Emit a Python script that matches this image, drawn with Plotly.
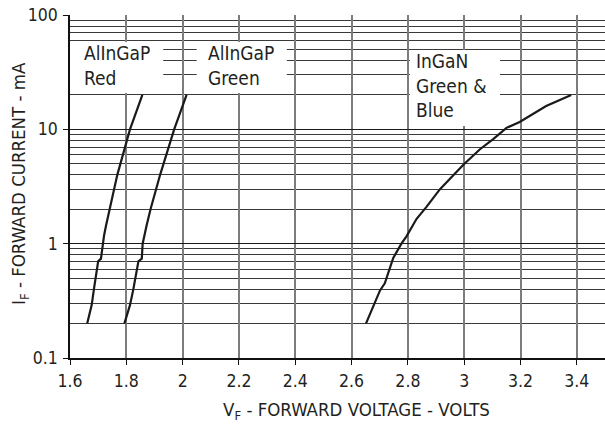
import math
import plotly.graph_objects as go

# ---- data ----
red_v = [1.661, 1.677, 1.685, 1.692, 1.700, 1.710, 1.716, 1.721, 1.728, 1.740, 1.768, 1.813, 1.857]
red_i = [0.2, 0.29, 0.4, 0.535, 0.7, 0.74, 1.0, 1.18, 1.44, 2.0, 4.0, 10, 20]

green_v = [1.793, 1.813, 1.825, 1.835, 1.843, 1.855, 1.858, 1.872, 1.886, 1.920, 1.970, 2.014]
green_i = [0.2, 0.29, 0.4, 0.535, 0.7, 0.74, 1.0, 1.44, 2.0, 4.0, 10, 20]

ingan_v = [2.651, 2.701, 2.718, 2.748, 2.777, 2.795, 2.831, 2.866, 2.914, 2.961, 2.997,
           3.056, 3.103, 3.150, 3.197, 3.291, 3.380]
ingan_i = [0.2, 0.39, 0.45, 0.75, 1.0, 1.16, 1.65, 2.1, 3.0, 4.0, 4.9,
           6.7, 8.2, 10.3, 11.6, 16.0, 20.0]

x_tickvals = [1.6, 1.8, 2.0, 2.2, 2.4, 2.6, 2.8, 3.0, 3.2, 3.4]
x_ticktext = ["1.6", "1.8", "2", "2.2", "2.4", "2.6", "2.8", "3", "3.2", "3.4"]
y_tickvals = [0.1, 1, 10, 100]
y_ticktext = ["0.1", "1", "10", "100"]

labels = ["AlInGaP<br>Red", "AlInGaP<br>Green", "InGaN<br>Green &<br>Blue"]

FONT = "DejaVu Sans Condensed, Liberation Sans, sans-serif"
TXT = "#231f20"
LINE = "#1a1a1a"

minor_vals = [k * d for d in (0.1, 1, 10) for k in range(2, 10)]

fig = go.Figure()
for v, i in ((red_v, red_i), (green_v, green_i), (ingan_v, ingan_i)):
    fig.add_trace(go.Scatter(x=v, y=i, mode="lines",
                             line=dict(color=LINE, width=2.2),
                             showlegend=False, hoverinfo="skip"))

# label boxes: (V0, V1, mA bottom, mA top, text left V, text top mA)
boxes = [
    (1.600, 1.931, 20.8, 58.0, 1.643, 60.0),
    (2.050, 2.370, 20.8, 58.0, 2.083, 60.0),
    (2.807, 3.127, 10.7, 49.4, 2.823, 51.0),
]
ann = []
shapes = []
for (x0, x1, y0, y1, tx, ty), lab in zip(boxes, labels):
    shapes.append(dict(type="rect", xref="x", yref="y", x0=x0, x1=x1, y0=y0, y1=y1,
                       fillcolor="white", line=dict(width=0), layer="between"))
    ann.append(dict(x=tx, y=math.log10(ty), xref="x", yref="y", text=lab,
                    showarrow=False, xanchor="left", yanchor="top", align="left",
                    font=dict(family=FONT, size=19, color=TXT)))

ann.append(dict(x=0.5346, y=-0.1545, xref="paper", yref="paper",
                text="V<sub>F</sub> - FORWARD VOLTAGE - VOLTS", showarrow=False,
                xanchor="center", yanchor="middle",
                font=dict(family=FONT, size=18.5, color=TXT)))
ann.append(dict(x=-0.0944, y=0.5087, xref="paper", yref="paper",
                text="I<sub>F</sub> - FORWARD CURRENT - mA", showarrow=False,
                textangle=-90, xanchor="center", yanchor="middle",
                font=dict(family=FONT, size=18.5, color=TXT)))

fig.update_layout(
    width=605, height=426,
    margin=dict(l=70, r=0, t=15, b=68),
    paper_bgcolor="white", plot_bgcolor="white",
    font=dict(family=FONT, color=TXT),
    annotations=ann,
    shapes=shapes,
    xaxis=dict(range=[1.6, 3.5], tickvals=x_tickvals, ticktext=x_ticktext,
               ticks="outside", ticklen=5, tickcolor="#111", tickwidth=1.2,
               showline=True, linecolor="#111", linewidth=1.5,
               showgrid=True, gridcolor="#7d7d7d", gridwidth=1.5,
               zeroline=False, ticklabelstandoff=1,
               tickfont=dict(family=FONT, size=17.5, color=TXT)),
    yaxis=dict(type="log", range=[-1, 2], tickvals=y_tickvals, ticktext=y_ticktext,
               ticks="outside", ticklen=5, tickcolor="#111", tickwidth=1.2,
               showline=True, linecolor="#111", linewidth=1.5,
               showgrid=True, gridcolor="#1a1a1a", gridwidth=1.2,
               zeroline=False, ticklabelstandoff=2,
               minor=dict(tickvals=minor_vals, showgrid=True, gridcolor="#3a3a3a",
                          gridwidth=1, ticks=""),
               tickfont=dict(family=FONT, size=17.5, color=TXT)),
)

fig.write_html("out.html")
